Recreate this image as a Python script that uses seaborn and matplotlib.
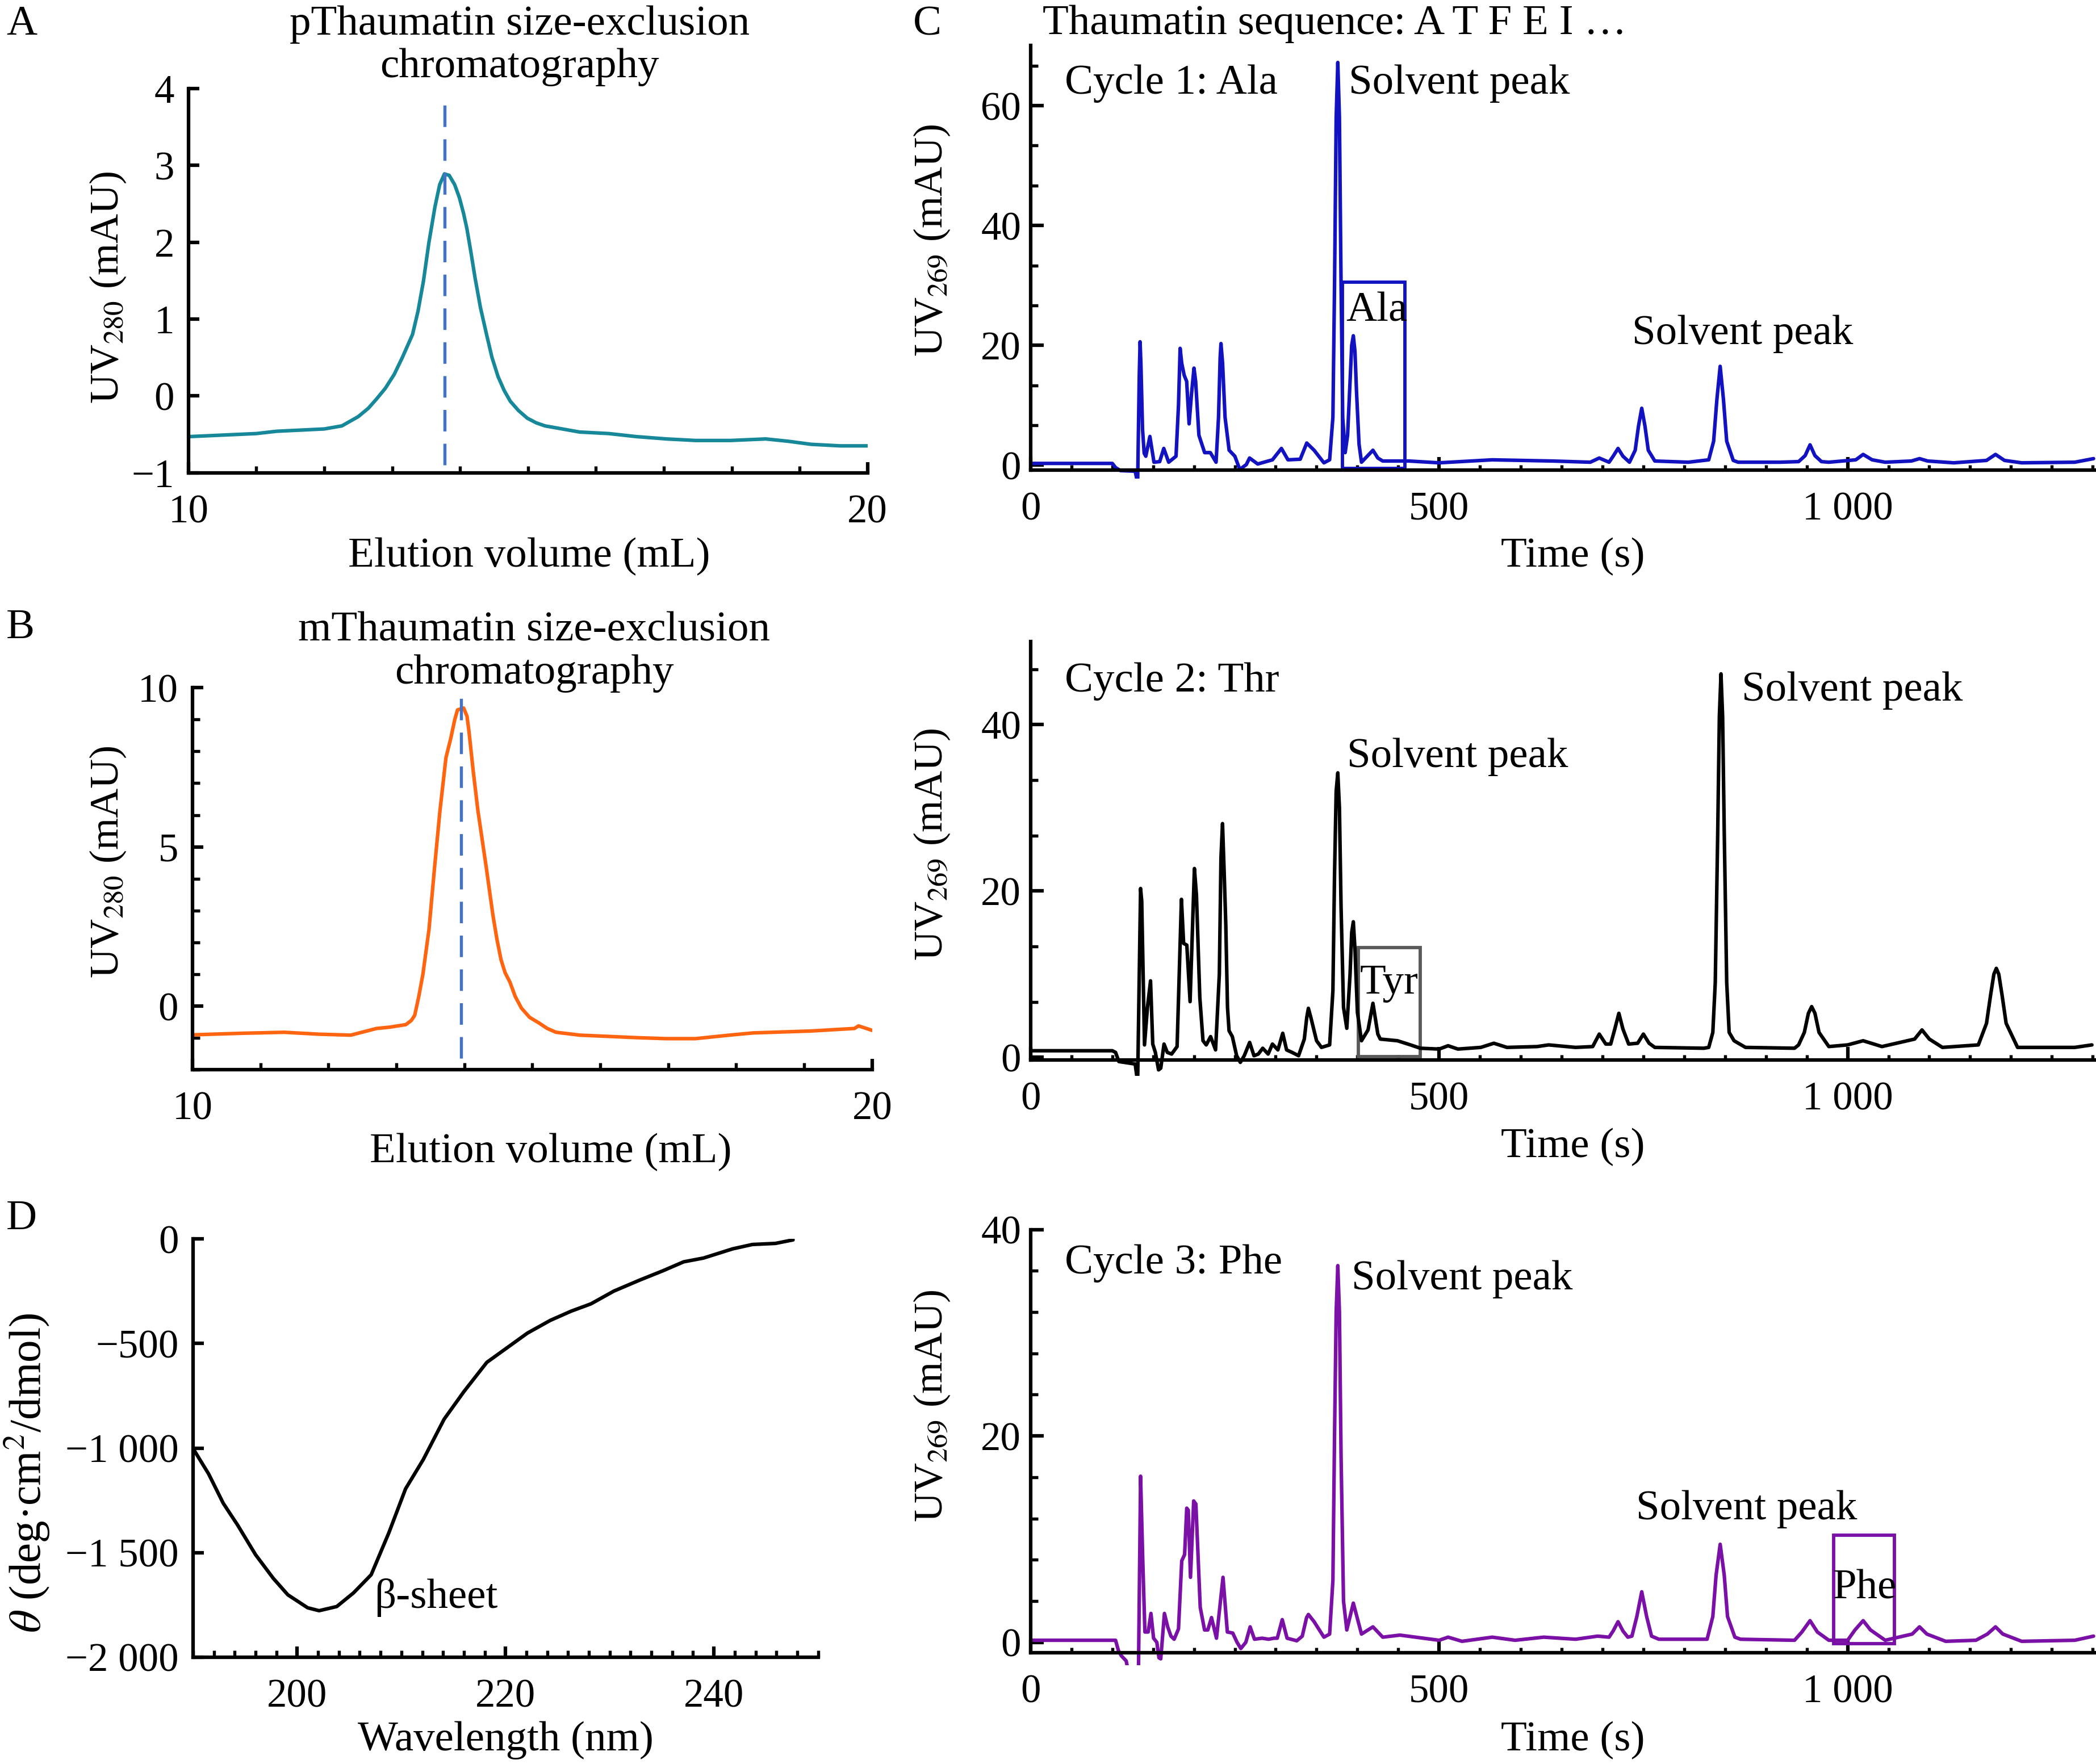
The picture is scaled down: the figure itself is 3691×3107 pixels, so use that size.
import matplotlib
matplotlib.use('Agg')
import matplotlib.pyplot as plt
import seaborn as sns
from matplotlib.patches import Rectangle
from matplotlib.ticker import MultipleLocator, FixedLocator, AutoMinorLocator

# panel A: pThaumatin SEC
A_vol = [10.0, 11.0, 11.3, 12.0, 12.26, 12.5, 12.65, 12.77, 12.9, 13.03, 13.15, 13.3, 13.38, 13.46,
         13.54, 13.63, 13.7, 13.77, 13.84, 13.92, 13.99, 14.05, 14.1, 14.16, 14.22, 14.3, 14.39,
         14.47, 14.56, 14.65, 14.74, 14.86, 14.99, 15.12, 15.25, 15.76, 16.19, 16.6, 17.04,
         17.47, 17.98, 18.5, 18.83, 19.17, 19.6, 20.0]
A_uv = [-0.53, -0.49, -0.46, -0.43, -0.39, -0.27, -0.16, -0.04, 0.10, 0.28, 0.50, 0.80, 1.10, 1.49,
        1.99, 2.46, 2.75, 2.89, 2.87, 2.75, 2.58, 2.38, 2.18, 1.87, 1.54, 1.15, 0.80,
        0.50, 0.25, 0.07, -0.07, -0.19, -0.29, -0.35, -0.39, -0.47, -0.49, -0.53, -0.56,
        -0.58, -0.58, -0.56, -0.59, -0.63, -0.65, -0.65]
A_peak_line = (13.77, -0.9, 3.92)

# panel B: mThaumatin SEC
B_vol = [10.0, 10.75, 11.35, 11.86, 12.33, 12.71, 12.9, 13.14, 13.22, 13.27, 13.33, 13.39, 13.48,
         13.56, 13.64, 13.73, 13.8, 13.86, 13.9, 13.99, 14.04, 14.07, 14.13, 14.2, 14.32, 14.42,
         14.48, 14.54, 14.6, 14.67, 14.75, 14.84, 14.96, 15.1, 15.22, 15.35, 15.7, 16.55,
         16.97, 17.4, 17.9, 18.25, 19.1, 19.74, 19.8, 20.0]
B_uv = [-0.90, -0.85, -0.82, -0.88, -0.91, -0.70, -0.66, -0.58, -0.45, -0.29, 0.30, 0.99, 2.4,
        4.3, 6.1, 7.8, 8.4, 9.0, 9.3, 9.36, 9.1, 8.6, 7.4, 6.14, 4.4, 2.87,
        2.1, 1.46, 1.05, 0.76, 0.30, -0.06, -0.35, -0.53, -0.70, -0.82, -0.91, -0.99,
        -1.02, -1.02, -0.91, -0.84, -0.78, -0.70, -0.62, -0.76]
B_peak_line = (13.95, -1.64, 9.94)

# panel D: CD spectrum
D_wl = [190.0, 191.5, 192.9, 194.3, 196.0, 197.7, 199.1, 201.0, 202.1, 203.8, 205.4, 207.1, 208.8,
        210.4, 212.1, 214.1, 216.0, 218.2, 219.9, 222.1, 224.3, 226.3, 228.2, 230.4, 232.9,
        235.1, 237.1, 239.0, 241.8, 243.7, 245.9, 247.6]
D_theta = [-1002, -1124, -1264, -1370, -1510, -1623, -1702, -1764, -1778, -1758, -1693, -1606, -1405,
           -1195, -1055, -862, -730, -590, -529, -450, -389, -345, -310, -249, -196,
           -152, -109, -91, -47, -26, -21, -4]

# panel C: Edman cycles (time s, UV269 mAU)
C1_time = [0, 100, 104, 110, 128, 131, 133, 134, 135, 137, 139, 141, 146, 151, 158, 163, 169, 178,
           181, 183, 185, 188, 191, 194, 197, 200, 202, 206, 213, 220, 227, 230, 232, 233, 235,
           238, 243, 250, 256, 264, 268, 278, 296, 307, 315, 330, 338, 347, 359, 366, 370, 372,
           374, 376, 378, 380, 382, 385, 388, 391, 393, 395, 397, 399, 402, 405, 412, 419, 425,
           431, 463, 500, 565, 639, 685, 696, 708, 713, 719, 725, 733, 740, 744, 748, 752, 756,
           764, 805, 830, 836, 840, 844, 848, 852, 860, 866, 917, 940, 948, 954, 960, 968, 977,
           1010, 1019, 1030, 1046, 1078, 1088, 1098, 1130, 1170, 1181, 1192, 1213, 1278, 1301]
C1_uv = [0.3, 0.3, -0.4, -0.9, -1.0, -3.0, 15.0, 20.6, 17.0, 6.0, 2.0, 1.5, 4.8, 0.5, 0.6, 2.8, 0.5,
         1.5, 10.0, 19.5, 17.0, 15.0, 14.0, 6.9, 12.0, 16.2, 14.0, 5.0, 2.1, 2.1, 0.5, 8.0, 18.0,
         20.3, 17.0, 8.0, 2.5, 1.5, -0.7, 0.1, 1.2, 0.2, 0.9, 2.8, 0.9, 1.0, 3.7, 2.5, 0.4, 0.9,
         8.0, 30.0, 58.0, 67.2, 58.0, 30.0, 8.0, 2.1, 5.0, 14.0, 20.0, 21.6, 19.0, 12.0, 3.5, 0.5,
         1.5, 2.5, 1.2, 0.7, 0.7, 0.4, 0.9, 0.7, 0.5, 1.2, 0.5, 1.5, 2.8, 1.5, 0.5, 2.5, 6.5, 9.5,
         6.5, 2.5, 0.7, 0.5, 0.9, 4.0, 11.0, 16.5, 11.0, 4.0, 0.8, 0.5, 0.5, 0.6, 1.6, 3.4, 1.6,
         0.6, 0.5, 0.9, 1.8, 0.9, 0.5, 0.7, 1.1, 0.7, 0.4, 0.8, 1.8, 0.8, 0.4, 0.5, 1.1]

C2_time = [0, 100, 104, 108, 128, 131, 134.6, 136, 139.4, 143, 146.8, 149.5, 152.7, 156.6, 159.3, 163.3,
           167.3, 172.6, 179.3, 184.6, 187.3, 191.2, 195.2, 200.5, 203, 207.1, 211, 215, 220.3, 226.4,
           231, 233, 234.9, 237, 238.9, 241, 242.9, 246.9, 252.2, 256.7, 261.5, 268.1, 273.4, 278.7,
           284.1, 290.7, 296, 302.7, 308.6, 313.3, 320, 328, 335, 338, 340, 343, 350, 356, 366, 370,
           372, 374, 376, 378, 380, 383, 387, 391, 393, 395, 397, 400, 405, 413, 419, 425, 428, 449,
           465, 477, 500, 511, 523, 551, 567, 583, 620, 634, 667, 688, 696, 704, 710, 715, 720, 725,
           732, 743, 750, 757, 764, 824, 830, 835, 838, 841, 843, 845, 847, 849, 852, 855, 861, 875,
           935, 940, 947, 952, 956, 960, 965, 977, 1000, 1019, 1042, 1082, 1091, 1100, 1116, 1160,
           1170, 1175, 1179, 1182, 1185, 1189, 1194, 1208, 1278, 1299]
C2_uv = [0.8, 0.8, 0.6, -0.5, -0.8, -3.0, 20.3, 18.8, 1.5, 6.0, 9.2, 1.6, 0.6, -1.5, -1.3, 1.6,
         0.6, 0.4, 1.3, 19.0, 13.7, 13.5, 6.7, 22.7, 19.5, 7.2, 2.0, 1.5, 2.5, 0.9,
         10.0, 24.0, 28.1, 22.0, 16.0, 6.0, 3.2, 2.5, 0.2, -0.6, 0.2, 1.8, 0.2, 0.4,
         1.1, 0.4, 1.6, 0.9, 2.9, 0.9, 0.6, 0.2, 2.2, 4.8, 5.9, 4.8, 2.0, 1.2, 1.5, 8.0,
         22.0, 32.0, 34.2, 30.0, 18.0, 6.0, 3.5, 10.0, 15.0, 16.3, 13.0, 5.4, 2.0, 3.3, 6.5, 2.8, 2.2, 2.0,
         1.5, 1.1, 1.0, 1.4, 1.0, 1.2, 1.7, 1.2, 1.3, 1.5, 1.2, 1.3, 2.8, 1.6, 1.6, 3.4, 5.3, 3.4,
         1.6, 1.7, 2.8, 1.7, 1.2, 1.1, 1.2, 3.0, 9.0, 27.0, 41.0, 46.1, 41.0, 27.0, 9.0, 3.0, 2.0, 1.2,
         1.1, 1.5, 3.0, 5.3, 6.1, 5.3, 3.0, 1.3, 1.5, 2.0, 1.3, 2.2, 3.3, 2.2, 1.2, 1.5,
         4.1, 7.5, 10.0, 10.7, 10.0, 7.5, 4.1, 1.2, 1.2, 1.5]

C3_time = [0, 104, 107.5, 111, 117, 120, 132, 134.6, 137.2, 139.9, 143.9, 147.3, 150.5, 154.5, 157.1,
           159.3, 163.8, 167.8, 171.8, 175.7, 181, 185, 188.5, 191.1, 193, 195.7, 199.6, 202.3, 207.6,
           212.9, 216.9, 221.4, 227.5, 235.5, 240.8, 247.4, 252.7, 257.3, 263.4, 268.7, 274, 283.3,
           291.3, 297.9, 301.9, 308, 313.9, 325.8, 332.5, 337.8, 340, 347, 359, 366, 370, 372, 374,
           376, 378, 380, 383, 387, 395, 405, 419, 431, 452, 500, 511, 528, 565, 593, 628, 667, 694,
           708, 713, 719, 725, 731, 736, 742, 748, 754, 760, 769, 828, 835, 839, 844, 849, 853, 862,
           869, 935, 944, 954, 963, 977, 1000, 1009, 1019, 1028, 1046, 1079, 1088, 1097, 1120, 1157,
           1171, 1181, 1190, 1213, 1278, 1301]
C3_uv = [0.2, 0.2, -0.8, -1.3, -1.8, -3.0, -3.0, 16.1, 8.2, 1.0, 1.0, 2.8, 0.4, 0.0, -1.5,
         -1.6, 2.8, 1.5, 0.6, 0.3, 1.3, 7.9, 8.5, 13.0, 12.8, 6.3, 13.7, 13.4, 3.4,
         1.2, 1.2, 2.4, 0.4, 6.3, 1.0, 0.9, 0.0, -0.6, 0.0, 1.5, 0.3, 0.4,
         0.3, 0.4, 0.4, 2.2, 0.4, 0.15, 0.6, 2.4, 2.7, 2.0, 0.5, 0.8, 6.0, 20.0, 32.0,
         36.5, 32.0, 18.0, 4.0, 1.2, 3.8, 0.8, 1.5, 0.5, 0.7, 0.2, 0.5, 0.1, 0.5, 0.2, 0.5, 0.3, 0.6,
         0.5, 1.1, 2.0, 1.1, 0.5, 0.6, 2.5, 4.9, 2.5, 0.6, 0.3, 0.3, 2.5, 6.5, 9.5, 6.5, 2.5, 0.5,
         0.3, 0.2, 1.0, 2.1, 1.0, 0.2, 0.2, 1.2, 2.1, 1.2, 0.2, 0.8, 1.5, 0.8, 0.1, 0.2,
         0.8, 1.5, 0.8, 0.1, 0.2, 0.6]

time_ticks = [0, 500, 1000]
time_ticklabels = ['0', '500', '1 000']

TEAL = '#17889a'
ORANGE = '#ff6410'
DASH = '#4472c4'
BLUE = '#1212c0'
PURPLE = '#7a10a6'
GREY = '#5a5a5a'

sns.set_theme(style='ticks', rc={'axes.edgecolor': 'black', 'xtick.color': 'black',
                                 'ytick.color': 'black', 'text.color': 'black',
                                 'axes.labelcolor': 'black'})
plt.rcParams['font.family'] = ['Liberation Serif', 'DejaVu Serif']
plt.rcParams['mathtext.fontset'] = 'stix'
plt.rcParams['font.size'] = 17
plt.rcParams['axes.linewidth'] = 1.5
plt.rcParams['xtick.direction'] = 'in'
plt.rcParams['ytick.direction'] = 'in'

FS = 17        # tick labels
FS_T = 18      # titles, notes, x labels
FS_Y = 17.3    # y labels
LW = 1.5


def base_style(ax, major_len=4.5, minor_len=3):
    for side in ['top', 'right']:
        ax.spines[side].set_visible(False)
    ax.tick_params(which='major', length=major_len, width=1.5, labelsize=FS)
    ax.tick_params(which='minor', length=minor_len, width=1.3)
    ax.tick_params(axis='x', pad=9)
    ax.tick_params(axis='y', pad=6)
    ax.set_facecolor('none')


def minus(v):
    s = '{:,}'.format(int(v)).replace(',', ' ')
    return s.replace('-', '\u2212')


fig = plt.figure(figsize=(3691 / 300, 3107 / 300), dpi=300)

# ---------------- A ----------------
axA = fig.add_axes([0.0899, 0.732, 0.324, 0.2178])
sns.lineplot(x=A_vol, y=A_uv, ax=axA, color=TEAL, lw=LW, sort=False, estimator=None)
axA.plot([A_peak_line[0]] * 2, A_peak_line[1:], color=DASH, lw=1.3, dashes=(7, 4))
axA.set_xlim(10, 20)
axA.set_ylim(-1, 4)
axA.xaxis.set_major_locator(FixedLocator([10, 20]))
axA.xaxis.set_minor_locator(MultipleLocator(1))
axA.set_yticks([-1, 0, 1, 2, 3, 4])
axA.set_yticklabels([minus(v) for v in [-1, 0, 1, 2, 3, 4]])
base_style(axA)
axA.set_xlabel('Elution volume (mL)', fontsize=FS_T)
axA.set_ylabel('UV$_{280}$ (mAU)', fontsize=FS_Y)
axA.xaxis.set_label_coords(0.502, -0.168)
axA.yaxis.set_label_coords(-0.089, 0.483)

# ---------------- B ----------------
axB = fig.add_axes([0.0918, 0.3935, 0.3243, 0.2167])
sns.lineplot(x=B_vol, y=B_uv, ax=axB, color=ORANGE, lw=LW, sort=False, estimator=None)
axB.plot([B_peak_line[0]] * 2, B_peak_line[1:], color=DASH, lw=1.3, dashes=(7, 4))
axB.set_xlim(10, 20)
axB.set_ylim(-2, 10)
axB.xaxis.set_major_locator(FixedLocator([10, 20]))
axB.xaxis.set_minor_locator(MultipleLocator(1))
axB.yaxis.set_major_locator(FixedLocator([0, 5, 10]))
axB.yaxis.set_minor_locator(MultipleLocator(1))
base_style(axB)
axB.set_xlabel('Elution volume (mL)', fontsize=FS_T)
axB.set_ylabel('UV$_{280}$ (mAU)', fontsize=FS_Y)
axB.xaxis.set_label_coords(0.527, -0.166)
axB.yaxis.set_label_coords(-0.095, 0.544)

# ---------------- D ----------------
axD = fig.add_axes([0.0921, 0.0606, 0.2982, 0.237])
sns.lineplot(x=D_wl, y=D_theta, ax=axD, color='black', lw=LW, sort=False, estimator=None)
axD.set_xlim(190, 250)
axD.set_ylim(-2000, 0)
axD.xaxis.set_major_locator(FixedLocator([200, 220, 240]))
axD.xaxis.set_minor_locator(MultipleLocator(2))
d_ticks = [-2000, -1500, -1000, -500, 0]
axD.set_yticks(d_ticks)
axD.set_yticklabels([minus(v) for v in d_ticks])
base_style(axD)
axD.text(207.4, -1715, '\u03b2-sheet', fontsize=FS_T, ha='left', va='center')
axD.set_xlabel('Wavelength (nm)', fontsize=FS_T)
axD.set_ylabel(r'$\theta$ (deg·cm$^{2}$/dmol)', fontsize=19)
axD.xaxis.set_label_coords(0.50, -0.153)
axD.yaxis.set_label_coords(-0.226, 0.44)

# ---------------- C ----------------
c_panels = [
    dict(pos=[0.4917, 0.7288, 0.5083, 0.2453], t=C1_time, y=C1_uv, color=BLUE, base=-0.86, top=70,
         minor=AutoMinorLocator(3), label='Cycle 1: Ala', label_y=63.7, ylab_y=0.55,
         xlab_y=-0.136,
         notes=[('Solvent peak', 389, 63.7), ('Solvent peak', 736, 21.9)],
         box=(382, -0.5, 76, 31.0, BLUE), box_text=('Ala', 386, 25.7),
         yticks=[0, 20, 40, 60]),
    dict(pos=[0.4917, 0.3902, 0.5083, 0.2462], t=C2_time, y=C2_uv, color='black', base=-0.3, top=50,
         minor=AutoMinorLocator(3), label='Cycle 2: Thr', label_y=45.2, ylab_y=0.532,
         xlab_y=-0.12,
         notes=[('Solvent peak', 387, 36.1), ('Solvent peak', 870, 44.1)],
         box=(401, 0.1, 76, 13.1, GREY), box_text=('Tyr', 403, 8.9),
         yticks=[0, 20, 40]),
    dict(pos=[0.4917, 0.0561, 0.5083, 0.2469], t=C3_time, y=C3_uv, color=PURPLE, base=-1.0, top=40,
         minor=AutoMinorLocator(5), label='Cycle 3: Phe', label_y=36.7, ylab_y=0.595,
         xlab_y=-0.129,
         notes=[('Solvent peak', 393, 35.2), ('Solvent peak', 741, 12.9)],
         box=(983, -0.1, 74, 10.5, PURPLE), box_text=('Phe', 982, 5.2),
         yticks=[0, 20, 40]),
]

for p in c_panels:
    ax = fig.add_axes(p['pos'])
    sns.lineplot(x=p['t'], y=p['y'], ax=ax, color=p['color'], lw=LW, sort=False, estimator=None)
    ax.set_xlim(0, 1304)
    ax.set_ylim(-2.2, p['top'])
    ax.spines['bottom'].set_position(('data', p['base']))
    ax.spines['left'].set_bounds(p['base'], p['top'])
    ax.set_xticks(time_ticks)
    ax.set_xticklabels(time_ticklabels)
    ax.xaxis.set_minor_locator(MultipleLocator(50))
    ax.set_yticks(p['yticks'])
    ax.yaxis.set_minor_locator(p['minor'])
    base_style(ax, major_len=5.5, minor_len=3)
    ax.tick_params(axis='y', pad=4)
    ax.tick_params(axis='x', which='minor', length=2.2)
    ax.text(42, p['label_y'], p['label'], fontsize=FS_T, ha='left', va='center')
    for txt, x, y in p['notes']:
        ax.text(x, y, txt, fontsize=FS_T, ha='left', va='center')
    bx, by, bw, bh, bc = p['box']
    ax.add_patch(Rectangle((bx, by), bw, bh, fill=False, edgecolor=bc, lw=1.4))
    ax.text(p['box_text'][1], p['box_text'][2], p['box_text'][0], fontsize=FS_T,
            ha='left', va='center')
    ax.set_xlabel('Time (s)', fontsize=FS_T)
    ax.set_ylabel('UV$_{269}$ (mAU)', fontsize=FS_Y)
    ax.xaxis.set_label_coords(0.509, p['xlab_y'])
    ax.yaxis.set_label_coords(-0.074, p['ylab_y'])

# titles and panel letters
fig.text(0.2478, 0.974, 'pThaumatin size-exclusion\nchromatography', fontsize=FS_T,
         ha='center', va='center', linespacing=1.15)
fig.text(0.2548, 0.6303, 'mThaumatin size-exclusion\nchromatography', fontsize=FS_T,
         ha='center', va='center', linespacing=1.15)
fig.text(0.4974, 0.9864, 'Thaumatin sequence: A T F E I \u2026', fontsize=FS_T,
         ha='left', va='center')
for letter, x, y in [('A', 0.003, 0.986), ('B', 0.003, 0.644), ('C', 0.4356, 0.986), ('D', 0.003, 0.309)]:
    fig.text(x, y, letter, fontsize=FS_T, ha='left', va='center')

fig.savefig('out.png', dpi=300, facecolor='white')
